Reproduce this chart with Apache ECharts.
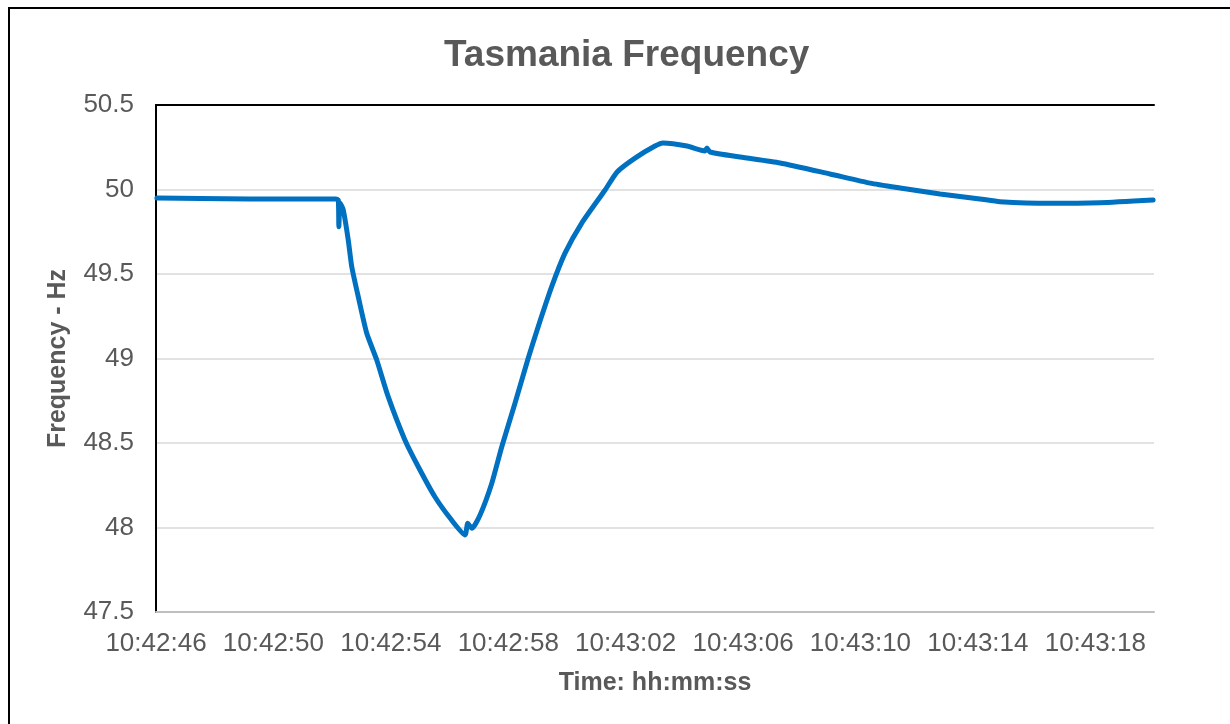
<!DOCTYPE html>
<html>
<head>
<meta charset="utf-8">
<title>Tasmania Frequency</title>
<style>
  html, body { margin: 0; padding: 0; background: #fff; }
  #box { width: 1230px; height: 724px; }
</style>
</head>
<body>
<div id="box"></div>
<script src="https://cdn.jsdelivr.net/npm/echarts@6/dist/echarts.min.js"></script>
<script>
// seconds after 10:42:46
var seconds = [0.03, 1.5, 3.2, 4.9, 6.13, 6.21, 6.23, 6.27, 6.38, 6.55, 6.67, 6.89, 7.18, 7.52, 7.91,
  8.48, 8.94, 9.5, 10.07, 10.53, 10.62, 10.76, 11.04, 11.44, 11.78, 12.23, 12.68, 13.02, 13.48,
  13.93, 14.5, 15.3, 15.71, 16.32, 17.0, 17.27, 18.09, 18.7, 18.77, 18.87, 19.9, 21.26, 22.96,
  24.33, 25.35, 26.71, 28.07, 28.75, 30.46, 32.16, 33.97];
// Hz
var frequency = [49.95, 49.947, 49.944, 49.944, 49.944, 49.938, 49.78, 49.92, 49.879, 49.701, 49.542,
  49.366, 49.149, 48.991, 48.774, 48.518, 48.358, 48.182, 48.044, 47.956, 48.025, 47.995, 48.074,
  48.262, 48.478, 48.735, 49.001, 49.188, 49.425, 49.622, 49.8, 49.997, 50.104, 50.186, 50.257,
  50.275, 50.257, 50.228, 50.246, 50.222, 50.192, 50.157, 50.092, 50.038, 50.009, 49.973, 49.944,
  49.928, 49.918, 49.922, 49.938];
var xTickLabels = ['10:42:46', '10:42:50', '10:42:54', '10:42:58', '10:43:02', '10:43:06',
  '10:43:10', '10:43:14', '10:43:18'];

var points = seconds.map(function (s, i) { return [s, frequency[i]]; });

var grey = '#595959';
var font = 'Liberation Sans, Arial, sans-serif';

var myChart = echarts.init(document.getElementById('box'));
myChart.setOption({
  animation: false,
  backgroundColor: '#fff',
  title: {
    text: 'Tasmania Frequency',
    left: 439,
    top: 32,
    textStyle: { color: grey, fontSize: 37, fontWeight: 'bold', fontFamily: font }
  },
  grid: { left: 156, right: 76, top: 105, bottom: 112 },
  xAxis: [{
    type: 'value',
    min: 0,
    max: 34,
    interval: 4,
    name: 'Time: hh:mm:ss',
    nameLocation: 'middle',
    nameGap: 59,
    nameTextStyle: { color: grey, fontSize: 25, fontWeight: 'bold', fontFamily: font },
    axisLine: { lineStyle: { color: '#BFBFBF', width: 2 } },
    axisTick: { show: false },
    splitLine: { show: false },
    axisLabel: {
      color: grey, fontSize: 26, fontFamily: font, margin: 19,
      showMaxLabel: false,
      formatter: function (v) { return xTickLabels[Math.round(v / 4)] || ''; }
    }
  }, {
    // top border of the plot area
    type: 'value', position: 'top', min: 0, max: 34,
    axisLine: { show: true, lineStyle: { color: '#000', width: 2 } },
    axisTick: { show: false }, axisLabel: { show: false }, splitLine: { show: false }
  }],
  yAxis: [{
    type: 'value',
    min: 47.5,
    max: 50.5,
    interval: 0.5,
    name: 'Frequency - Hz',
    nameLocation: 'middle',
    nameGap: 85,
    nameTextStyle: { color: grey, fontSize: 25, fontWeight: 'bold', fontFamily: font },
    axisLine: { show: true, lineStyle: { color: '#000', width: 2 } },
    axisTick: { show: false },
    axisLabel: { color: grey, fontSize: 26, fontFamily: font, margin: 22 },
    splitLine: { lineStyle: { color: '#D9D9D9', width: 1.5 } }
  }, {
    // right border of the plot area
    type: 'value', position: 'right', min: 47.5, max: 50.5,
    axisLine: { show: true, lineStyle: { color: '#000', width: 2 } },
    axisTick: { show: false }, axisLabel: { show: false }, splitLine: { show: false }
  }],
  graphic: [{
    type: 'rect',
    shape: { x: 9, y: 8, width: 1240, height: 740 },
    style: { fill: 'none', stroke: '#000', lineWidth: 2 },
    silent: true
  }],
  series: [{
    type: 'line',
    data: points,
    showSymbol: false,
    smooth: 0.2,
    lineStyle: { color: '#0070C0', width: 5, cap: 'round', join: 'round' }
  }]
});
</script>
</body>
</html>
